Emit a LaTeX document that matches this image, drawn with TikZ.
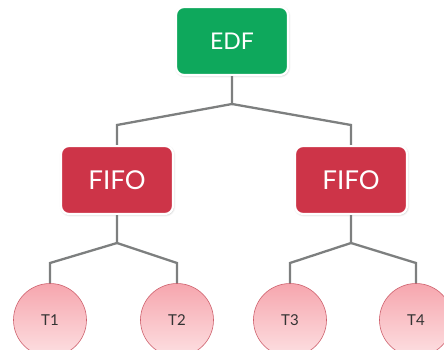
\documentclass[tikz,border=0pt]{standalone}
\usepackage{fontspec}
\setmainfont{Lato}
\usetikzlibrary{positioning,shadows.blur}
\definecolor{edfgreen}{RGB}{14,168,92}
\definecolor{fifored}{RGB}{205,52,72}
\definecolor{linkgray}{RGB}{125,127,127}
\definecolor{tasktop}{RGB}{246,166,174}
\definecolor{taskbot}{RGB}{253,224,226}
\definecolor{taskrim}{RGB}{205,96,108}
\tikzset{
  schedbox/.style={rounded corners=8pt,draw=white,line width=2.2pt,
    minimum width=112pt,minimum height=68pt,inner sep=0pt,text=white,
    blur shadow={shadow xshift=0.6pt,shadow yshift=-0.8pt,shadow blur radius=2pt,shadow opacity=30}},
  edfbox/.style={schedbox,fill=edfgreen,font=\fontsize{23}{26}\selectfont},
  fifobox/.style={schedbox,fill=fifored,font=\fontsize{26}{30}\selectfont},
  task/.style={circle,draw=taskrim,line width=0.6pt,minimum size=73pt,inner sep=0pt,
    top color=tasktop,bottom color=taskbot,font=\fontsize{15}{18}\selectfont,text=black!80},
  link/.style={draw=linkgray,line width=2.3pt},
}
\begin{document}
\begin{tikzpicture}[x=1pt,y=-1pt]
  \useasboundingbox (0,0) rectangle (444,350);
  % junction points of the tree
  \coordinate (jtop) at (232,104);
  \coordinate (kl) at (117,125);
  \coordinate (kr) at (351,125);
  \coordinate (jl) at (117,243);
  \coordinate (jr) at (351,243);
  \coordinate (c1) at (50,263);
  \coordinate (c2) at (177,263);
  \coordinate (c3) at (290,263);
  \coordinate (c4) at (416,263);
  % nodes
  \node[edfbox] (edf) at (232,41) {EDF};
  \node[fifobox] (fifol) at (117,180) {FIFO};
  \node[fifobox] (fifor) at (351,180) {FIFO};
  \node[task] (t1) at (50,320) {T1};
  \node[task] (t2) at (177,320) {T2};
  \node[task] (t3) at (290,320) {T3};
  \node[task] (t4) at (416,320) {T4};
  % connectors
  \draw[link] (edf.south) -- (jtop) -- (kl) -- (fifol.north);
  \draw[link] (jtop) -- (kr) -- (fifor.north);
  \draw[link] (fifol.south) -- (jl) -- (c1) -- (t1.north);
  \draw[link] (jl) -- (c2) -- (t2.north);
  \draw[link] (fifor.south) -- (jr) -- (c3) -- (t3.north);
  \draw[link] (jr) -- (c4) -- (t4.north);
\end{tikzpicture}
\end{document}
